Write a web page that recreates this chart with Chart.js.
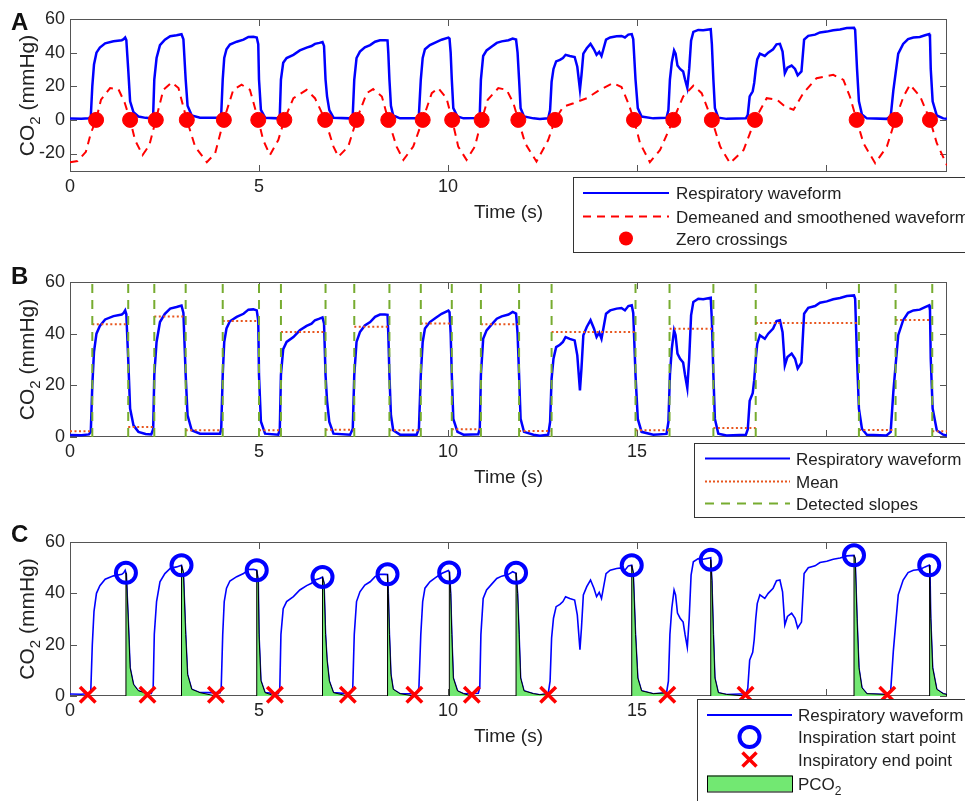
<!DOCTYPE html>
<html>
<head>
<meta charset="utf-8">
<script src="https://cdn.jsdelivr.net/npm/chart.js@4.4.0/dist/chart.umd.min.js"></script>
<style>
  body { margin: 0; background: #fff; }
  #wrap { position: relative; width: 965px; height: 801px; overflow: hidden; }
  canvas { position: absolute; left: 0; }
</style>
</head>
<body>
<div id="wrap">
  <canvas id="chartA" width="965" height="260" style="top:0"></canvas>
  <canvas id="chartB" width="965" height="260" style="top:260px"></canvas>
  <canvas id="chartC" width="965" height="281" style="top:520px"></canvas>
</div>
<script>
// respiratory waveform, time (s) / CO2 (mmHg) - same trace in A, B and C
const waveT = [
    0, 0.3, 0.5, 0.55, 0.59, 0.635, 0.70, 0.79, 0.93, 1.15, 1.37, 1.42, 1.46, 1.49, 1.54, 1.59, 1.68, 1.81, 2.0, 2.15, 2.20,
    2.23, 2.29, 2.38, 2.51, 2.65, 2.82, 2.95, 3.00, 3.06, 3.11, 3.22, 3.44, 3.97, 4.00,
    4.04, 4.08, 4.14, 4.23, 4.41, 4.59, 4.72, 4.85, 4.94, 4.98, 5.00, 5.05, 5.16, 5.51, 5.55,
    5.58, 5.64, 5.73, 5.91, 6.08, 6.26, 6.39, 6.48, 6.60, 6.68, 6.72, 6.76, 6.80, 6.86, 6.97, 7.41, 7.48,
    7.52, 7.58, 7.67, 7.80, 7.94, 8.07, 8.20, 8.33, 8.40, 8.42, 8.45, 8.49, 8.55, 8.73, 9.17, 9.23,
    9.28, 9.33, 9.39, 9.52, 9.66, 9.83, 10.01, 10.04, 10.07, 10.10, 10.14, 10.25, 10.41, 10.80, 10.84,
    10.87, 10.93, 11.02, 11.15, 11.29, 11.42, 11.60, 11.71, 11.80, 11.84, 11.88, 11.92, 12.01, 12.26, 12.43, 12.65, 12.70,
    12.74, 12.79, 12.86, 12.96, 13.04, 13.11, 13.22, 13.35, 13.42, 13.49, 13.53, 13.58, 13.67, 13.77, 13.86, 13.93, 14.00,
    14.06, 14.11, 14.18, 14.29, 14.46, 14.59, 14.68, 14.77, 14.86, 14.90, 14.96, 15.02, 15.12, 15.43, 15.78, 15.83,
    15.87, 15.92, 15.98, 16.02, 16.07, 16.14, 16.22, 16.27, 16.33, 16.38, 16.43, 16.49, 16.62, 16.75, 16.95, 16.98, 17.02,
    17.06, 17.15, 17.37, 17.88,
    17.93, 17.98, 18.06, 18.10, 18.14, 18.18, 18.25, 18.38, 18.47, 18.60, 18.69, 18.78, 18.85, 18.91, 18.98, 19.09, 19.18,
    19.25, 19.35, 19.42, 19.53, 19.71, 19.84, 20.02, 20.19, 20.37, 20.55, 20.74, 20.77, 20.82, 20.87, 20.95, 21.08, 21.60,
    21.71, 21.78, 21.84, 21.91, 22.04, 22.17, 22.31, 22.48, 22.62, 22.73, 22.75, 22.77, 22.82, 22.93, 23.1, 23.2
];
const waveCO2 = [
    0.8, 0.7, 1.0, 2.0, 20, 33, 40, 43, 45.5, 46.8, 47.4, 48.0, 49.0, 47.5, 30, 11, 4.5, 2.0, 1.2, 1.0, 3.0,
    24, 36.8, 44.5, 47.7, 49.7, 50.3, 50.9, 48, 24, 8.4, 2.6, 1.3, 1.3, 3.2,
    24, 36.8, 42, 44.8, 46.5, 47.7, 49.3, 49.4, 49, 45, 24, 6, 1.3, 0.9, 3,
    24, 34, 36.8, 38.7, 41.3, 43, 43.9, 45.2, 45.8, 46.3, 44, 24, 14, 5.8, 1.3, 0.9, 3.2,
    24, 36.8, 40.6, 43.2, 44.5, 46.5, 47.4, 47.4, 47.3, 40, 24, 8.4, 2.6, 0.9, 0.9, 3.2,
    24, 36.8, 42, 44.5, 46, 47.7, 48.9, 48.3, 40, 24, 7, 2, 0.9, 1.1, 3.2,
    24, 38, 41.3, 43.5, 45.8, 46.7, 47.4, 48.4, 47.8, 40, 24, 7, 2, 0.9, 0.5, 0.9, 5.8,
    22.6, 30.3, 34.8, 35.7, 36.8, 38.7, 38, 37.4, 31.6, 18, 26.5, 39.4, 42.6, 45.2, 42, 38.7, 40.4,
    38, 42, 47.7, 49, 49.7, 49.9, 49, 50.7, 51, 48, 24, 7, 2, 0.9, 1.2, 5.8,
    24, 34.2, 41.3, 39.4, 32.3, 30.3, 28.8, 24, 19, 30.3, 47.1, 52.3, 53.5, 53.3, 53.9, 45, 24,
    7, 1.3, 0.6, 0.9,
    3, 14, 17, 22, 30, 36, 39.4, 38, 40, 42, 44.9, 45.2, 40.6, 27.7, 31, 32.3, 30.3,
    26.5, 28.8, 47.7, 50, 50.7, 52, 52.5, 53.3, 53.8, 54.6, 54.8, 53.5, 30.3, 11, 3.2, 0.9, 0.6,
    2, 17.4, 27.7, 39.4, 45.2, 48.1, 49, 49.3, 50.3, 51, 49, 30.3, 11, 2.6, 0.9, 0.6
];

// A : demeaned and smoothened waveform
const smoothT = [
    0, 0.2, 0.42, 0.55, 0.69, 0.82, 1.06, 1.28, 1.45, 1.59, 1.72, 1.92, 2.10, 2.27, 2.47, 2.69, 2.87, 3.09,
    3.31, 3.62, 3.84, 4.07, 4.32, 4.54, 4.76, 4.98, 5.11, 5.29, 5.51, 5.67, 5.91, 6.26, 6.48, 6.75,
    6.97, 7.10, 7.36, 7.58, 7.85, 8.02, 8.25, 8.42, 8.64, 8.82, 9.08, 9.33, 9.57, 9.74, 9.96, 10.11,
    10.27, 10.49, 10.71, 10.89, 11.05, 11.33, 11.55, 11.73, 11.86, 12.04, 12.34, 12.65, 12.83,
    13.05, 13.32, 13.67, 14.02, 14.37, 14.59, 14.77, 14.92, 15.08, 15.34, 15.61, 15.96,
    16.22, 16.49, 16.71, 16.98, 17.20, 17.46, 17.82, 18.12, 18.43, 18.70, 18.92, 19.14, 19.40, 19.75,
    20.19, 20.46, 20.63, 20.81, 20.99, 21.30, 21.61, 21.83, 22.05, 22.22, 22.49, 22.75, 22.93, 23.2
];
const smoothCO2 = [
    -25.2, -24.5, -19, -8, 0, 12, 18.9, 18.3, 10, 0, -12, -20.9, -15, 0, 17.9, 22.3, 18.9, 0,
    -15.9, -25.2, -19.9, 0, 17.9, 20.9, 17.9, 0, -12, -20.9, -12, 0, 12.9, 17.9, 12.9, 0,
    -15.9, -21.9, -15.9, 0, 15.9, 18.3, 13.9, 0, -15.9, -23.8, -15.9, 0, 15.9, 18.9, 12.9, 0,
    -15.9, -23.8, -15.9, 0, 12, 18.9, 17.9, 9.9, 0, -13.9, -24.8, -12, 0,
    7.9, 9.9, 12.9, 17.9, 21.9, 19.5, 9.9, 0, -13.9, -25.2, -17.9, 0,
    13.9, 20.3, 15.9, 0, -15.9, -25.8, -17.9, 0, 12.9, 12, 7.9, 6, 15.9, 24.8,
    26.8, 23.8, 13.9, 0, -13.9, -25.8, -15.9, 0, 13.9, 20.9, 13.9, 0, -13.9, -27
];
const zeroCrossings = [0.69, 1.59, 2.27, 3.09, 4.07, 4.98, 5.67, 6.75, 7.58, 8.42, 9.33,
    10.11, 10.89, 11.86, 12.83, 14.92, 15.96, 16.98, 18.12, 20.81, 21.83, 22.75];

// B : detected slopes and mean level between them
const slopes = [0.59, 1.54, 2.23, 3.06, 4.04, 5.00, 5.58, 6.76, 7.52, 8.45, 9.28,
    10.10, 10.87, 11.88, 12.74, 14.96, 15.86, 17.02, 18.14, 20.87, 21.84, 22.81];
const meanLevels = [2.2, 43.6, 3.9, 46.6, 2.6, 44.9, 2.6, 40.6, 2.8, 42.7, 2.6, 43.9,
    3.0, 43.6, 2.3, 40.6, 2.6, 41.9, 3.5, 44.1, 2.7, 45.3, 2.2];

// C : inspiration start / end points
const startT = [1.48, 2.95, 4.94, 6.68, 8.40, 10.03, 11.80, 14.86, 16.95, 20.74, 22.73];
const startCO2 = [48.0, 50.9, 49.0, 46.4, 47.4, 48.1, 48.0, 50.9, 53.1, 54.8, 50.9];
const endT = [0.47, 2.05, 3.86, 5.42, 7.35, 9.11, 10.63, 12.65, 15.80, 17.87, 21.62];
const endCO2 = [0.5, 0.5, 0.5, 0.5, 0.5, 0.5, 0.5, 0.5, 0.5, 0.5, 0.5];

const xTicks = [0, 5, 10, 15, 20];
const yTicksA = [-20, 0, 20, 40, 60];
const yTicksBC = [0, 20, 40, 60];
const tMax = 23.2;

const FONT = 'Liberation Sans, Arial, sans-serif';
const BLUE = '#0000ff';
const RED = '#ff0000';
const GREEN = '#77ac30';
const ORANGE = '#e8561e';
const FILL = '#72e872';
const TXT = '#222';

const pts = (xs, ys) => xs.map((x, i) => ({ x: x, y: ys[i] }));
const waveData = pts(waveT, waveCO2);

// text with a subscript part, baseline at (x, y)
function subText(ctx, parts, x, y, size, align) {
    const subSize = Math.round(size * 0.7);
    let w = 0;
    parts.forEach(p => {
        ctx.font = (p.sub ? subSize : size) + 'px ' + FONT;
        w += ctx.measureText(p.t).width;
    });
    let cx = align === 'center' ? x - w / 2 : x;
    ctx.textAlign = 'left';
    ctx.textBaseline = 'alphabetic';
    parts.forEach(p => {
        ctx.font = (p.sub ? subSize : size) + 'px ' + FONT;
        ctx.fillText(p.t, cx, y + (p.sub ? size * 0.3 : 0));
        cx += ctx.measureText(p.t).width;
    });
}

// box, inward ticks, y title, panel letter, legend
const framePlugin = {
    id: 'frame',
    beforeDatasetsDraw(chart, args, opts) {
        const { ctx, chartArea: a, scales: { x, y } } = chart;
        ctx.save();
        ctx.strokeStyle = '#555';
        ctx.lineWidth = 1;
        ctx.strokeRect(a.left + 0.5, a.top + 0.5, a.right - a.left - 1, a.bottom - a.top - 1);
        ctx.beginPath();
        xTicks.forEach(v => {
            const px = Math.round(x.getPixelForValue(v)) + 0.5;
            ctx.moveTo(px, a.bottom); ctx.lineTo(px, a.bottom - 7);
            ctx.moveTo(px, a.top); ctx.lineTo(px, a.top + 7);
        });
        opts.yTicks.forEach(v => {
            const py = Math.round(y.getPixelForValue(v)) + 0.5;
            ctx.moveTo(a.left, py); ctx.lineTo(a.left + 7, py);
            ctx.moveTo(a.right, py); ctx.lineTo(a.right - 7, py);
        });
        ctx.stroke();

        ctx.fillStyle = TXT;
        ctx.save();
        ctx.translate(34, (a.top + a.bottom) / 2);
        ctx.rotate(-Math.PI / 2);
        subText(ctx, [{ t: 'CO' }, { t: '2', sub: true }, { t: ' (mmHg)' }], 0, 0, 21, 'center');
        ctx.restore();

        ctx.fillStyle = '#111';
        ctx.font = 'bold 24px ' + FONT;
        ctx.textBaseline = 'middle';
        ctx.fillText(opts.letter, 11, opts.letterY);
        ctx.restore();
    },
    afterDraw(chart, args, opts) {
        const { ctx } = chart;
        const L = opts.legend;
        ctx.save();
        ctx.fillStyle = '#fff';
        ctx.fillRect(L.left, L.top, 400, L.bottom - L.top);
        ctx.strokeStyle = '#333';
        ctx.lineWidth = 1;
        ctx.strokeRect(L.left + 0.5, L.top + 0.5, 400, L.bottom - L.top);
        const cx = (L.sx0 + L.sx1) / 2;
        L.items.forEach((it, i) => {
            const yy = L.rows[i];
            ctx.save();
            if (it.kind === 'line') {
                ctx.strokeStyle = it.color;
                ctx.lineWidth = it.width || 2;
                ctx.setLineDash(it.dash || []);
                ctx.beginPath();
                ctx.moveTo(L.sx0, yy); ctx.lineTo(L.sx1, yy);
                ctx.stroke();
            } else if (it.kind === 'dot') {
                ctx.fillStyle = it.color;
                ctx.beginPath(); ctx.arc(cx, yy, 7, 0, Math.PI * 2); ctx.fill();
            } else if (it.kind === 'ring') {
                ctx.strokeStyle = it.color; ctx.lineWidth = 4;
                ctx.beginPath(); ctx.arc(cx, yy, 10, 0, Math.PI * 2); ctx.stroke();
            } else if (it.kind === 'cross') {
                ctx.strokeStyle = it.color; ctx.lineWidth = 3.5;
                ctx.beginPath();
                ctx.moveTo(cx - 7, yy - 7); ctx.lineTo(cx + 7, yy + 7);
                ctx.moveTo(cx + 7, yy - 7); ctx.lineTo(cx - 7, yy + 7);
                ctx.stroke();
            } else if (it.kind === 'rect') {
                ctx.fillStyle = it.color;
                ctx.fillRect(L.sx0, yy - 8, L.sx1 - L.sx0, 16);
                ctx.strokeStyle = '#000'; ctx.lineWidth = 1;
                ctx.strokeRect(L.sx0 + 0.5, yy - 7.5, L.sx1 - L.sx0, 16);
            }
            ctx.restore();
            ctx.fillStyle = TXT;
            subText(ctx, it.text, L.tx, yy + 6, 17, 'left');
        });
        ctx.restore();
    }
};

function xScale() {
    return {
        type: 'linear', min: 0, max: tMax,
        afterBuildTicks: s => { s.ticks = xTicks.map(v => ({ value: v })); },
        afterFit: s => { s.height = 52; },
        grid: { display: false, drawTicks: false }, border: { display: false },
        ticks: { font: { family: FONT, size: 18 }, color: TXT, padding: 4, maxRotation: 0, autoSkip: false },
        title: { display: true, text: 'Time (s)', font: { family: FONT, size: 19 }, color: TXT, padding: { top: 0, bottom: 0 } }
    };
}

function yScale(min, max, ticks) {
    return {
        type: 'linear', min: min, max: max,
        afterBuildTicks: s => { s.ticks = ticks.map(v => ({ value: v })); },
        afterFit: s => { s.width = 70; },
        grid: { display: false, drawTicks: false }, border: { display: false },
        ticks: { font: { family: FONT, size: 18 }, color: TXT, padding: 5 },
        title: { display: false }
    };
}

function baseOptions(yMin, yTicks, pad, frame) {
    return {
        responsive: false,
        animation: false,
        events: [],
        layout: { padding: pad },
        elements: { point: { radius: 0 }, line: { tension: 0 } },
        scales: { x: xScale(), y: yScale(yMin, 60, yTicks) },
        plugins: { legend: { display: false }, tooltip: { enabled: false }, frame: frame }
    };
}

// GRAPH A
new Chart(document.getElementById('chartA'), {
    type: 'line',
    data: {
        datasets: [{
            label: 'Zero crossings',
            data: zeroCrossings.map(t => ({ x: t, y: 0 })),
            showLine: false, pointRadius: 7.5, pointBackgroundColor: RED, pointBorderColor: RED,
            clip: false, order: 0
        }, {
            label: 'Demeaned and smoothened waveform',
            data: pts(smoothT, smoothCO2),
            borderColor: RED, borderWidth: 2, borderDash: [8, 6], order: 1
        }, {
            label: 'Respiratory waveform',
            data: waveData,
            borderColor: BLUE, borderWidth: 2.5, order: 2
        }]
    },
    options: baseOptions(-31, yTicksA, { left: 0, right: 18, top: 19, bottom: 36 }, {
        letter: 'A', letterY: 23, yTicks: yTicksA,
        legend: {
            left: 573, top: 177, bottom: 252, sx0: 583, sx1: 669, tx: 676, rows: [193, 216.5, 238.5],
            items: [
                { kind: 'line', color: BLUE, text: [{ t: 'Respiratory waveform' }] },
                { kind: 'line', color: RED, dash: [8, 6], text: [{ t: 'Demeaned and smoothened waveform' }] },
                { kind: 'dot', color: RED, text: [{ t: 'Zero crossings' }] }
            ]
        }
    }),
    plugins: [framePlugin]
});

// GRAPH B
const bounds = [0].concat(slopes, [tMax]);
const meanData = [];
meanLevels.forEach((m, i) => {
    meanData.push({ x: bounds[i], y: m }, { x: bounds[i + 1], y: m }, { x: bounds[i + 1], y: null });
});
const slopeData = [];
slopes.forEach(t => { slopeData.push({ x: t, y: 0 }, { x: t, y: 60 }, { x: t, y: null }); });

new Chart(document.getElementById('chartB'), {
    type: 'line',
    data: {
        datasets: [{
            label: 'Detected slopes',
            data: slopeData,
            borderColor: GREEN, borderWidth: 2, borderDash: [9, 7], order: 0
        }, {
            label: 'Mean',
            data: meanData,
            borderColor: ORANGE, borderWidth: 2, borderDash: [2, 2.5], order: 1
        }, {
            label: 'Respiratory waveform',
            data: waveData,
            borderColor: BLUE, borderWidth: 2.5, order: 2
        }]
    },
    options: baseOptions(0, yTicksBC, { left: 0, right: 18, top: 22, bottom: 31 }, {
        letter: 'B', letterY: 17, yTicks: yTicksBC,
        legend: {
            left: 694, top: 183, bottom: 257, sx0: 705, sx1: 790, tx: 796, rows: [198.5, 221.5, 243.5],
            items: [
                { kind: 'line', color: BLUE, text: [{ t: 'Respiratory waveform' }] },
                { kind: 'line', color: ORANGE, dash: [2, 2], text: [{ t: 'Mean' }] },
                { kind: 'line', color: GREEN, dash: [9, 7], text: [{ t: 'Detected slopes' }] }
            ]
        }
    }),
    plugins: [framePlugin]
});

// GRAPH C
const pcoSets = startT.map((s, i) => {
    const e = i + 1 < endT.length ? endT[i + 1] : tMax;
    const d = [{ x: s, y: 0 }, { x: s, y: startCO2[i] }];
    waveData.forEach(p => { if (p.x > s && p.x <= e) d.push(p); });
    d.push({ x: e, y: 0 });
    return {
        label: 'PCO2', data: d, borderColor: '#000', borderWidth: 1,
        backgroundColor: FILL, fill: 'origin', order: 2
    };
});

new Chart(document.getElementById('chartC'), {
    type: 'line',
    data: {
        datasets: [{
            label: 'Inspiration start point',
            data: pts(startT, startCO2),
            showLine: false, pointRadius: 10, pointBorderWidth: 4, pointBorderColor: BLUE,
            pointBackgroundColor: 'rgba(0,0,0,0)', clip: false, order: 0
        }, {
            label: 'Inspiratory end point',
            data: pts(endT, endCO2),
            showLine: false, pointStyle: 'crossRot', pointRadius: 11, pointBorderWidth: 3.5,
            pointBorderColor: RED, clip: false, order: 1
        }].concat(pcoSets, [{
            label: 'Respiratory waveform',
            data: waveData,
            borderColor: BLUE, borderWidth: 1.6, order: 3
        }])
    },
    options: baseOptions(0, yTicksBC, { left: 0, right: 18, top: 22, bottom: 53 }, {
        letter: 'C', letterY: 15, yTicks: yTicksBC,
        legend: {
            left: 697, top: 179, bottom: 300, sx0: 707, sx1: 792, tx: 798, rows: [195, 217, 239.5, 263.5],
            items: [
                { kind: 'line', color: BLUE, text: [{ t: 'Respiratory waveform' }] },
                { kind: 'ring', color: BLUE, text: [{ t: 'Inspiration start point' }] },
                { kind: 'cross', color: RED, text: [{ t: 'Inspiratory end point' }] },
                { kind: 'rect', color: FILL, text: [{ t: 'PCO' }, { t: '2', sub: true }] }
            ]
        }
    }),
    plugins: [framePlugin]
});
</script>
</body>
</html>
